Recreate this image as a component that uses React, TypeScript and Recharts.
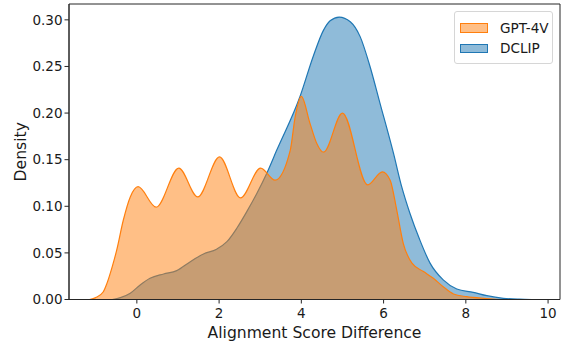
import React from 'react';
import { ComposedChart, Area, XAxis, YAxis, Legend, Label, ReferenceArea } from 'recharts';

// KDE curves (x = score difference, y = density)
const gptX = [-1.15, -1.0, -0.82, -0.73, -0.6, -0.49, -0.33, -0.16, 0.03, 0.47, 1.02, 1.48, 2.01, 2.52, 3.01, 3.36, 3.73, 3.85, 4.0, 4.21, 4.37, 4.54, 5.0, 5.61, 5.97, 6.16, 6.32, 6.48, 6.69, 6.97, 7.21, 7.45, 7.7, 8.02, 8.5, 8.8];
const gptY = [0, 0.002, 0.008, 0.017, 0.035, 0.053, 0.085, 0.11, 0.121, 0.099, 0.141, 0.11, 0.153, 0.109, 0.141, 0.128, 0.16, 0.196, 0.218, 0.189, 0.168, 0.158, 0.2, 0.123, 0.137, 0.128, 0.096, 0.06, 0.039, 0.03, 0.0227, 0.0137, 0.0059, 0.003, 0.001, 0];

const dclipX = [-0.6, -0.4, -0.16, 0.08, 0.32, 0.65, 0.97, 1.3, 1.62, 1.94, 2.19, 2.43, 2.67, 2.92, 3.16, 3.4, 3.97, 4.29, 4.54, 4.7, 4.92, 5.19, 5.43, 5.67, 5.91, 6.24, 6.44, 6.64, 6.88, 7.13, 7.45, 7.78, 8.18, 8.51, 8.91, 9.3, 9.6];
const dclipY = [0, 0.002, 0.0067, 0.0156, 0.0227, 0.0274, 0.031, 0.0406, 0.0488, 0.054, 0.062, 0.0764, 0.094, 0.114, 0.1355, 0.16, 0.218, 0.261, 0.289, 0.299, 0.303, 0.298, 0.282, 0.25, 0.211, 0.157, 0.121, 0.0925, 0.064, 0.039, 0.021, 0.0113, 0.0077, 0.0041, 0.0013, 0.0003, 0];

const xTicks = [0, 2, 4, 6, 8, 10];
const yTicks = [0, 0.05, 0.1, 0.15, 0.2, 0.25, 0.3];
const xDomain = [-1.65, 10.29];
const yDomain = [0, 0.317];

const series = [
  { key: 'gpt', name: 'GPT-4V', color: '#ff7f0e' },
  { key: 'dclip', name: 'DCLIP', color: '#1f77b4' },
];

// merge both curves on one numeric x column
const buildRows = () => {
  const map = new Map<number, any>();
  gptX.forEach((x, i) => {
    map.set(x, { ...(map.get(x) || { x }), gpt: gptY[i] });
  });
  dclipX.forEach((x, i) => {
    map.set(x, { ...(map.get(x) || { x }), dclip: dclipY[i] });
  });
  return Array.from(map.values()).sort((a, b) => a.x - b.x);
};

const rows = buildRows();

const FONT = 'DejaVu Sans, sans-serif';
const AXIS = '#262626';

const LegendBox = () => (
  <div
    style={{
      width: 99,
      height: 53,
      boxSizing: 'border-box',
      border: '1px solid #d6d6d6',
      borderRadius: 3,
      background: 'rgba(255,255,255,0.8)',
      padding: '6px 0 0 5px',
      fontFamily: FONT,
      fontSize: 13.6,
      color: '#1a1a1a',
    }}
  >
    {series.map((s) => (
      <div key={s.key} style={{ display: 'flex', alignItems: 'center', height: 20.5 }}>
        <span
          style={{
            width: 28,
            height: 9.5,
            boxSizing: 'border-box',
            background: s.color + '80',
            border: `1px solid ${s.color}`,
            marginRight: 12,
          }}
        />
        <span>{s.name}</span>
      </div>
    ))}
  </div>
);

export default function App() {
  return (
    <div style={{ position: 'absolute', left: 0, top: 0, width: 564, height: 341, background: '#fff' }}>
      <ComposedChart
        width={564}
        height={341}
        data={rows}
        margin={{ top: 4, right: 4, bottom: 0.5, left: 0 }}
      >
        <XAxis
          dataKey="x"
          type="number"
          domain={xDomain}
          allowDataOverflow
          ticks={xTicks}
          height={41}
          tickSize={4}
          tickMargin={5}
          stroke={AXIS}
          tick={{ fill: '#1a1a1a', fontSize: 13.5, fontFamily: FONT }}
        >
          <Label
            value="Alignment Score Difference"
            position="insideBottom"
            offset={3}
            style={{ fontSize: 15.6, fontFamily: FONT, fill: '#1a1a1a' }}
          />
        </XAxis>
        <YAxis
          type="number"
          domain={yDomain}
          allowDataOverflow
          ticks={yTicks}
          width={69}
          tickSize={4.5}
          tickMargin={2}
          tickFormatter={(v: number) => v.toFixed(2)}
          stroke={AXIS}
          tick={{ fill: '#1a1a1a', fontSize: 13.5, fontFamily: FONT }}
        >
          <Label
            value="Density"
            angle={-90}
            position="insideLeft"
            offset={20}
            style={{ fontSize: 15.6, fontFamily: FONT, fill: '#1a1a1a', textAnchor: 'middle' }}
          />
        </YAxis>
        <Legend
          layout="vertical"
          align="center"
          verticalAlign="middle"
          content={() => <LegendBox />}
          wrapperStyle={{ position: 'absolute', top: 10.5, left: 454, width: 99, height: 53 }}
        />
        <Area
          type="monotone"
          dataKey="dclip"
          name="DCLIP"
          stroke="#1f77b4"
          strokeWidth={1.2}
          fill="#1f77b4"
          fillOpacity={0.5}
          connectNulls
          dot={false}
          activeDot={false}
          isAnimationActive={false}
        />
        <Area
          type="monotone"
          dataKey="gpt"
          name="GPT-4V"
          stroke="#ff7f0e"
          strokeWidth={1.2}
          fill="#ff7f0e"
          fillOpacity={0.5}
          connectNulls
          dot={false}
          activeDot={false}
          isAnimationActive={false}
        />
        {/* plot frame (top and right spines) */}
        <ReferenceArea
          x1={xDomain[0]}
          x2={xDomain[1]}
          y1={yDomain[0]}
          y2={yDomain[1]}
          fill="none"
          stroke={AXIS}
          strokeWidth={1}
          ifOverflow="visible"
        />
      </ComposedChart>
    </div>
  );
}
